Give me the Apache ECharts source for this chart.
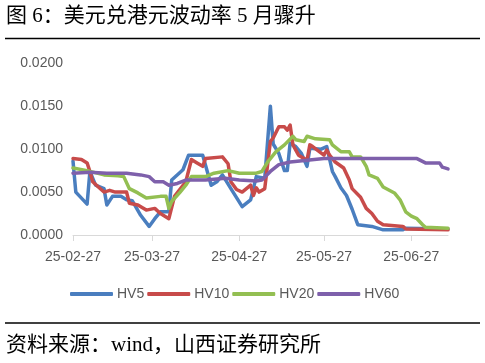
<!DOCTYPE html>
<html>
<head>
<meta charset="utf-8">
<script src="https://cdn.jsdelivr.net/npm/echarts@6/dist/echarts.min.js"></script>
<style>
html,body{margin:0;padding:0;background:#fff;}
#c{width:485px;height:363px;}
</style>
</head>
<body>
<div id="c"></div>
<script>
// day offsets from 2025-02-27 (calendar days)
const startDate = Date.UTC(2025, 1, 27);
const dayCount = 134;
const yTicks = [0, 0.005, 0.01, 0.015, 0.02];

const hv5Days = [0,1,5,6,8,11,12,14,17,19,21,24,27,29,31,34,35,39,41,46,49,51,53,56,60,63,65,68,70,71,73,75,76,77,79,81,83,84,88,90,92,93,95,97,99,101,106,110,117,118,133];
const hv5 = [0.0086,0.0050,0.0036,0.0074,0.0058,0.0054,0.0035,0.0045,0.0045,0.0041,0.0040,0.0023,0.0010,0.0019,0.0027,0.0027,0.0064,0.0076,0.0093,0.0093,0.0058,0.0062,0.0070,0.0054,0.0033,0.0041,0.0068,0.0066,0.0150,0.0106,0.0095,0.0075,0.0075,0.0107,0.0103,0.0095,0.0080,0.0101,0.0100,0.0103,0.0074,0.0068,0.0055,0.0046,0.0030,0.0012,0.0010,0.0006,0.0006,0.0008,0.0007];

const hv10Days = [0,3,5,6,7,9,11,13,15,19,20,23,26,29,31,34,36,40,42,44,46,47,53,55,56,58,60,63,64,65,66,68,70,71,73,75,76,77,78,80,83,84,85,89,90,91,93,96,98,99,102,104,106,108,110,117,118,133];
const hv10 = [0.0089,0.0088,0.0084,0.0074,0.0062,0.0056,0.0050,0.0052,0.0050,0.0050,0.0037,0.0035,0.0029,0.0031,0.0025,0.0019,0.0045,0.0062,0.0088,0.0084,0.0080,0.0089,0.0091,0.0083,0.0062,0.0053,0.0050,0.0058,0.0046,0.0055,0.0050,0.0054,0.0109,0.0113,0.0126,0.0126,0.0122,0.0128,0.0105,0.0093,0.0087,0.0105,0.0103,0.0093,0.0099,0.0093,0.0085,0.0078,0.0064,0.0054,0.0044,0.0031,0.0025,0.0016,0.0012,0.0010,0.0007,0.0006];

const hv20Days = [0,5,11,16,18,20,23,26,31,33,34,35,38,40,42,47,50,55,59,65,67,69,72,75,78,79,82,83,86,91,92,95,98,99,102,104,105,108,110,114,116,118,120,122,124,125,133];
const hv20 = [0.0078,0.0075,0.0070,0.0069,0.0068,0.0054,0.0049,0.0043,0.0045,0.0045,0.0031,0.0039,0.0050,0.0058,0.0068,0.0068,0.0072,0.0075,0.0072,0.0072,0.0074,0.0085,0.0097,0.0105,0.0115,0.0111,0.0109,0.0115,0.0112,0.0111,0.0105,0.0097,0.0097,0.0091,0.0091,0.0080,0.0070,0.0066,0.0056,0.0049,0.0041,0.0027,0.0022,0.0019,0.0012,0.0009,0.0008];

const hv60Days = [0,6,12,19,24,27,29,32,34,37,40,47,54,59,65,67,70,73,77,83,89,122,125,130,131,133];
const hv60 = [0.0072,0.0073,0.0072,0.0072,0.0070,0.0068,0.0062,0.0062,0.0058,0.0060,0.0064,0.0064,0.0066,0.0064,0.0063,0.0064,0.0074,0.0082,0.0085,0.0087,0.0089,0.0089,0.0084,0.0084,0.0079,0.0077];

const seriesNames = ['HV5', 'HV10', 'HV20', 'HV60'];
const colors = ['#4a7ebf', '#c84b4a', '#93bf52', '#7e60ab'];

const categories = [];
for (let i = 0; i < dayCount; i++) {
  const d = new Date(startDate + i * 86400000);
  const s = d.getUTCFullYear() + '-' + String(d.getUTCMonth() + 1).padStart(2, '0') + '-' + String(d.getUTCDate()).padStart(2, '0');
  categories.push(s);
}
function pairs(days, vals) { return days.map((d, i) => [d, vals[i]]); }
const allData = [pairs(hv5Days, hv5), pairs(hv10Days, hv10), pairs(hv20Days, hv20), pairs(hv60Days, hv60)];

const isTickDay = (idx, val) => val.slice(8) === '27';
const textColor = '#595959';
const latin = '"Liberation Sans", Arial, sans-serif';
const cjkFont = '21px "Liberation Serif", "Noto Sans CJK SC", serif';

const chart = echarts.init(document.getElementById('c'), null, {renderer: 'canvas'});
chart.setOption({
  animation: false,
  color: colors,
  grid: {left: 73, right: 37, top: 63.3, bottom: 128, containLabel: false},
  xAxis: {
    type: 'category',
    data: categories,
    boundaryGap: false,
    axisLine: {show: true, lineStyle: {color: '#d9d9d9', width: 1}},
    axisTick: {show: true, interval: isTickDay, length: 6, lineStyle: {color: '#d9d9d9'}},
    axisLabel: {interval: isTickDay, formatter: v => v.slice(2), color: textColor, fontSize: 14, fontFamily: latin, margin: 15},
    splitLine: {show: false}
  },
  yAxis: {
    type: 'value',
    min: yTicks[0], max: yTicks[yTicks.length - 1], interval: 0.005,
    axisLine: {show: false},
    axisTick: {show: false},
    splitLine: {show: false},
    axisLabel: {formatter: v => v.toFixed(4), color: textColor, fontSize: 14, fontFamily: latin, margin: 10}
  },
  legend: {
    data: seriesNames,
    left: 70, top: 287,
    padding: 0,
    icon: 'roundRect',
    itemWidth: 43, itemHeight: 4,
    itemGap: 3,
    textStyle: {color: textColor, fontSize: 14, fontFamily: latin, padding: [0, 0, 0, -1]}
  },
  graphic: [
    {type: 'text', left: 6, top: 6, style: {text: '图 6：美元兑港元波动率 5 月骤升', fill: '#000', font: cjkFont}},
    {type: 'line', shape: {x1: 5, y1: 38.5, x2: 480, y2: 38.5}, style: {stroke: '#000', lineWidth: 1.5}},
    {type: 'line', shape: {x1: 5, y1: 323, x2: 480, y2: 323}, style: {stroke: '#000', lineWidth: 1.5}},
    {type: 'text', left: 6, top: 335, style: {text: '资料来源：wind，山西证券研究所', fill: '#000', font: cjkFont}}
  ],
  series: seriesNames.map((n, i) => ({
    name: n,
    type: 'line',
    data: allData[i],
    showSymbol: false,
    symbol: 'none',
    lineStyle: {width: 3.5, color: colors[i], join: 'round', cap: 'round'},
    itemStyle: {color: colors[i]}
  }))
});
</script>
</body>
</html>
